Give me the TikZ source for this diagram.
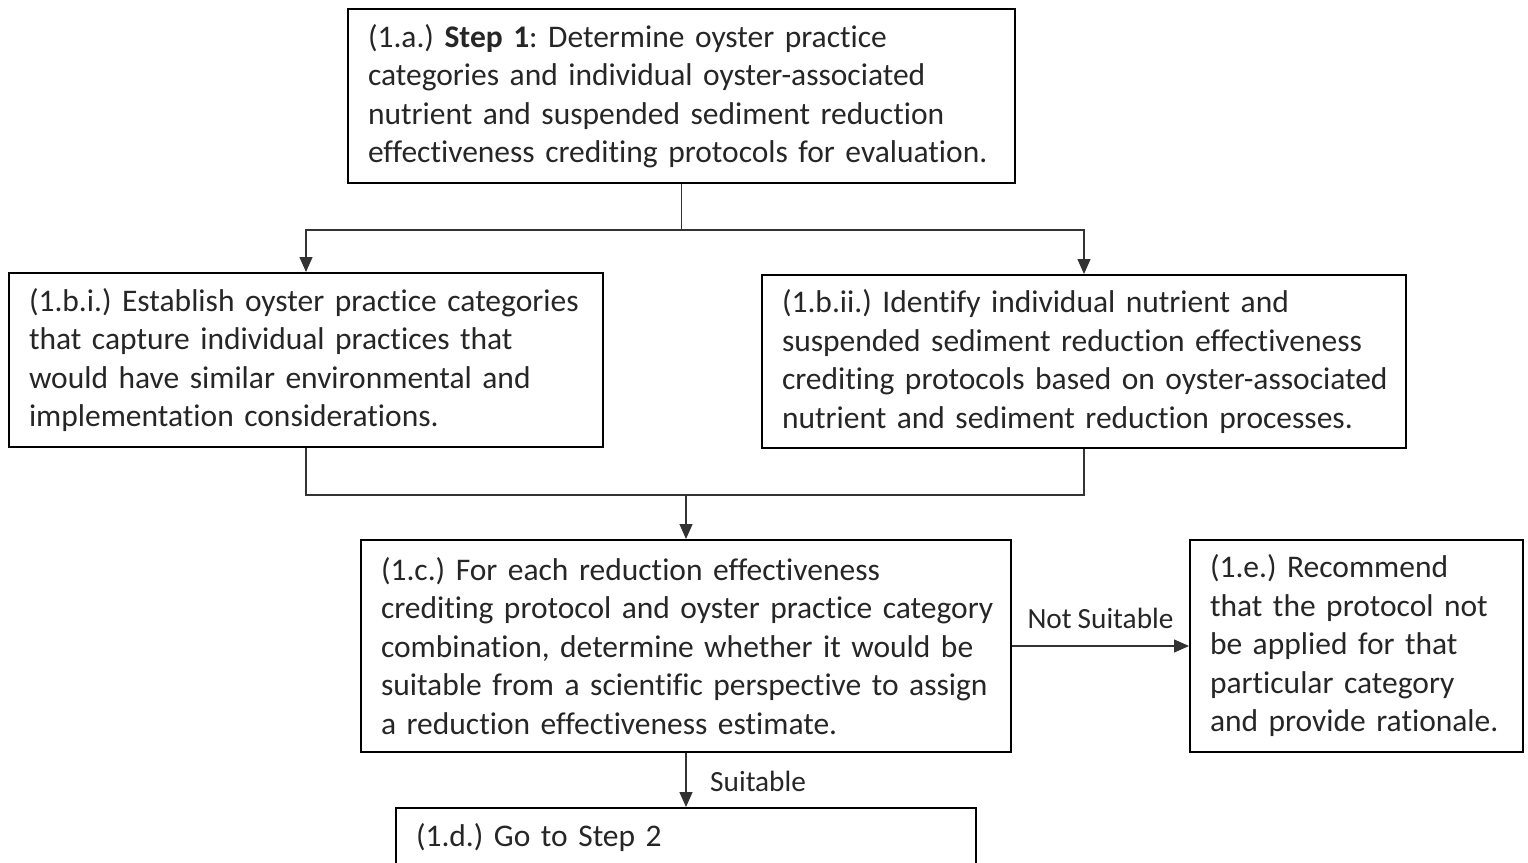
\documentclass[tikz,border=0pt]{standalone}
\usepackage{fontspec}
\setmainfont{Carlito}[RawFeature={-liga;-clig;-calt;-dlig;-rlig}, WordSpace=0.9]
\usetikzlibrary{arrows.meta}
\frenchspacing
\hfuzz=100pt
\newcommand{\tl}[1]{\mbox{#1}}
\tikzset{
  box/.style={draw=black, line width=2pt, rectangle, align=left, inner xsep=20pt, inner ysep=0pt,
    font=\fontsize{31.5}{38.5}\selectfont, text=black!85},
  conn/.style={draw=black!80, line width=1.3pt},
  arr/.style={conn, -{Triangle[width=13pt,length=15pt]}},
  lbl/.style={font=\fontsize{29.3}{34}\selectfont, text=black!85, inner sep=0pt}
}
\begin{document}
\begin{tikzpicture}[x=1pt,y=-1pt]
\clip (0,0) rectangle (1528,862);
\useasboundingbox (0,0) rectangle (1528,862);
\node[box, text width=627, minimum height=174] (a) at (681.5,96)
  {\tl{(1.a.) \textbf{Step 1}: Determine oyster practice}\\\tl{categories and individual oyster-associated}\\\tl{nutrient and suspended sediment reduction}\\\tl{effectiveness crediting protocols for evaluation.}};
\node[box, text width=554, minimum height=174] (bi) at (306,360)
  {\tl{(1.b.i.) Establish oyster practice categories}\\\tl{that capture individual practices that}\\\tl{would have similar environmental and}\\\tl{implementation considerations.}};
\node[box, text width=604, minimum height=173] (bii) at (1084,361.5)
  {\tl{(1.b.ii.) Identify individual nutrient and}\\\tl{suspended sediment reduction effectiveness}\\\tl{crediting protocols based on oyster-associated}\\\tl{nutrient and sediment reduction processes.}};
\node[box, text width=610, minimum height=212] (c) at (686,646)
  {\tl{(1.c.) For each reduction effectiveness}\\\tl{crediting protocol and oyster practice category}\\\tl{combination, determine whether it would be}\\\tl{suitable from a scientific perspective to assign}\\\tl{a reduction effectiveness estimate.}};
\node[box, text width=293, minimum height=212] (e) at (1356.5,646)
  {\tl{(1.e.) Recommend}\\\tl{that the protocol not}\\\tl{be applied for that}\\\tl{particular category}\\\tl{and provide rationale.}};
\node[box, text width=540, minimum height=60] (d) at (686,838)
  {\tl{(1.d.) Go to Step 2}};
% connectors
\draw[conn] (a.south) -- ++(0,46) coordinate (j1);
\draw[arr] (j1) -| (bi.north);
\draw[arr] (j1) -| (bii.north);
\draw[conn] (bi.south) -- ++(0,47) coordinate (j2) -- (j2 -| bii.south) -- (bii.south);
\draw[arr] (j2 -| c.north) -- (c.north);
\draw[arr] (c.east) -- (e.west) node[lbl, midway, above=17pt] (ns) {Not Suitable};
\draw[arr] (c.south) -- (d.north);
\node[lbl, anchor=west] (su) at (710,781) {Suitable};
\end{tikzpicture}
\end{document}
